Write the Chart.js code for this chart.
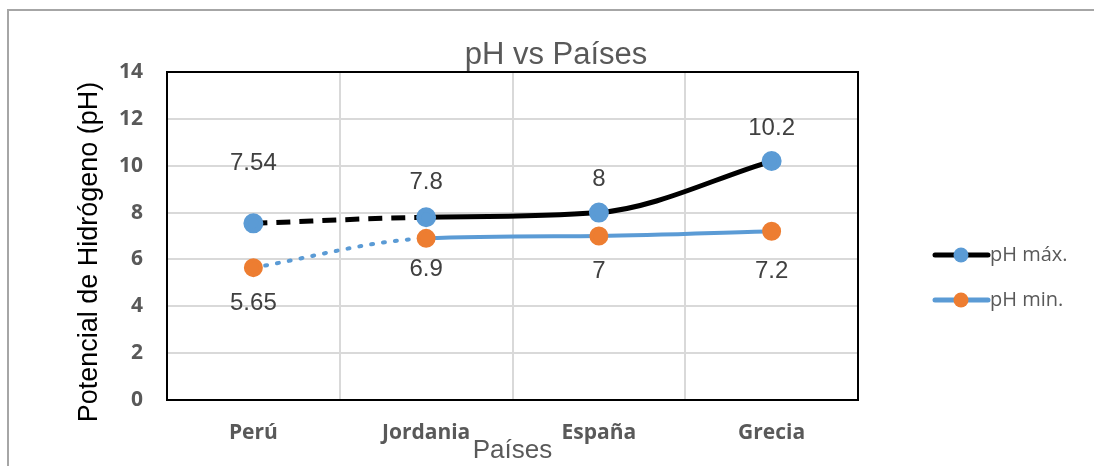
<!DOCTYPE html>
<html>
<head>
<meta charset="utf-8">
<script src="https://cdn.jsdelivr.net/npm/chart.js@4"></script>
<style>
  html, body { margin: 0; padding: 0; background: #fff; }
  #wrap { width: 1094px; height: 466px; position: relative; }
</style>
</head>
<body>
<div id="wrap"><canvas id="phChart"></canvas></div>
<script>
const paises = ['Perú', 'Jordania', 'España', 'Grecia'];
const phMax = [7.54, 7.8, 8, 10.2];
const phMin = [5.65, 6.9, 7, 7.2];
const yTicks = [0, 2, 4, 6, 8, 10, 12, 14];

const labelFont = '24px "Liberation Sans", Arial, sans-serif';
// desplazamiento vertical de las etiquetas (como en el original de Excel)
const offMax = [-60, -35, -33, -33];
const offMin = [36, 31, 35, 40];

// fondo, marco exterior, borde del area de trazado, etiquetas, leyenda y titulos
const extras = {
  id: 'extras',
  beforeDraw(chart) {
    const c = chart.ctx;
    c.save();
    c.fillStyle = '#fff';
    c.fillRect(0, 0, chart.width, chart.height);
    c.strokeStyle = '#a6a6a6';
    c.lineWidth = 2;
    c.strokeRect(8, 10, 1200, 600);
    c.restore();
  },
  afterDatasetsDraw(chart) {
    const c = chart.ctx;
    const a = chart.chartArea;
    c.save();
    c.strokeStyle = '#000';
    c.lineWidth = 2;
    c.strokeRect(a.left, a.top, a.right - a.left, a.bottom - a.top);

    c.font = labelFont;
    c.fillStyle = '#404040';
    c.textAlign = 'center';
    c.textBaseline = 'middle';
    chart.getDatasetMeta(0).data.forEach((p, i) => {
      c.fillText(String(phMax[i]), p.x, p.y + offMax[i]);
    });
    chart.getDatasetMeta(1).data.forEach((p, i) => {
      c.fillText(String(phMin[i]), p.x, p.y + offMin[i]);
    });

    // leyenda
    const items = [
      { text: 'pH máx.', line: '#000', dot: '#5b9bd5', y: 255 },
      { text: 'pH min.', line: '#5b9bd5', dot: '#ed7d31', y: 300 }
    ];
    items.forEach(it => {
      c.strokeStyle = it.line;
      c.lineWidth = 5;
      c.lineCap = 'round';
      c.beginPath();
      c.moveTo(935, it.y);
      c.lineTo(988, it.y);
      c.stroke();
      c.fillStyle = it.dot;
      c.beginPath();
      c.arc(961, it.y, 7.5, 0, Math.PI * 2);
      c.fill();
      c.fillStyle = '#595959';
      c.font = '20px "Open Sans", sans-serif';
      c.textAlign = 'left';
      c.fillText(it.text, 990, it.y);
    });

    // titulo
    c.fillStyle = '#595959';
    c.font = '31px "Liberation Sans", Arial, sans-serif';
    c.textAlign = 'center';
    c.fillText('pH vs Países', 556, 55);

    // titulo del eje Y
    c.translate(90, 252);
    c.rotate(-Math.PI / 2);
    c.fillStyle = '#000';
    c.font = '27px "Liberation Sans", Arial, sans-serif';
    c.fillText('Potencial de Hidrógeno (pH)', 0, 0);
    c.restore();
  }
};

new Chart(document.getElementById('phChart'), {
  type: 'line',
  data: {
    labels: paises,
    datasets: [
      {
        label: 'pH máx.',
        data: phMax,
        borderColor: '#000',
        borderWidth: 5,
        pointBackgroundColor: '#5b9bd5',
        pointBorderColor: '#5b9bd5',
        pointRadius: 7.5,
        tension: 0.4,
        cubicInterpolationMode: 'monotone',
        segment: { borderDash: ctx => ctx.p0DataIndex === 0 ? [14, 9] : undefined }
      },
      {
        label: 'pH min.',
        data: phMin,
        borderColor: '#5b9bd5',
        borderWidth: 4,
        pointBackgroundColor: '#ed7d31',
        pointBorderColor: '#ed7d31',
        pointRadius: 7.5,
        tension: 0.4,
        cubicInterpolationMode: 'monotone',
        segment: { borderDash: ctx => ctx.p0DataIndex === 0 ? [2, 10] : undefined,
                   borderCapStyle: 'round' }
      }
    ]
  },
  options: {
    responsive: true,
    maintainAspectRatio: false,
    animation: false,
    layout: { padding: { left: 8, right: 236, top: 72, bottom: 0 } },
    plugins: {
      legend: { display: false },
      title: { display: false },
      tooltip: { enabled: false }
    },
    scales: {
      x: {
        offset: true,
        grid: { color: '#d9d9d9', lineWidth: 2, offset: true, drawTicks: false },
        border: { display: false },
        ticks: {
          color: '#595959',
          padding: 20,
          font: { family: '"Open Sans", sans-serif', size: 21, weight: 'bold' }
        },
        title: {
          display: true,
          text: 'Países',
          color: '#595959',
          font: { family: '"Liberation Sans", Arial, sans-serif', size: 26 },
          padding: { top: -20, bottom: 0 }
        },
        afterFit(scale) { scale.height = 66; }
      },
      y: {
        min: 0,
        max: 14,
        afterBuildTicks(scale) { scale.ticks = yTicks.map(v => ({ value: v })); },
        grid: { color: '#d9d9d9', lineWidth: 2, drawTicks: false },
        border: { display: false },
        ticks: {
          color: '#595959',
          padding: 24,
          font: { family: '"Open Sans", sans-serif', size: 21, weight: 'bold' }
        },
        afterFit(scale) { scale.width = 159; }
      }
    }
  },
  plugins: [extras]
});
</script>
</body>
</html>
